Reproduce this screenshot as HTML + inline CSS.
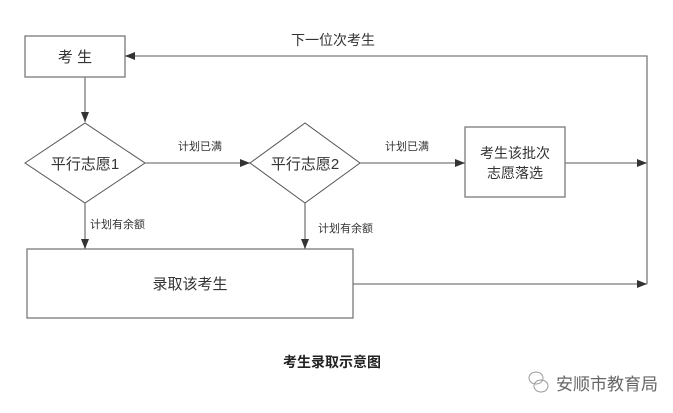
<!DOCTYPE html>
<html><head><meta charset="utf-8"><style>
html,body{margin:0;padding:0;background:#fff;}
svg{display:block;}
text{font-family:"Liberation Sans","Noto Sans CJK SC",sans-serif;fill:#333;}
</style></head><body>
<svg width="673" height="413" viewBox="0 0 673 413" xmlns="http://www.w3.org/2000/svg">
<defs>
<marker id="a" markerWidth="10" markerHeight="8" refX="10" refY="4" orient="auto" markerUnits="userSpaceOnUse">
<path d="M0,0 L10,4 L0,8 z" fill="#333"/></marker>
</defs>
<g stroke="#7a7a7a" stroke-width="1.3" fill="none">
<rect x="25" y="36" width="100" height="41" fill="#fff"/>
<polygon points="25,163 85,123 145,163 85,203" fill="#fff" stroke="#555" stroke-width="1"/>
<polygon points="250,163 305,123 360,163 305,203" fill="#fff" stroke="#555" stroke-width="1"/>
<rect x="465" y="127" width="100" height="70" fill="#fff"/>
<rect x="27" y="249" width="326" height="69" fill="#fff"/>
<line x1="85" y1="77" x2="85" y2="122" marker-end="url(#a)"/>
<line x1="145" y1="163" x2="250" y2="163" marker-end="url(#a)"/>
<line x1="360" y1="163" x2="465" y2="163" marker-end="url(#a)"/>
<line x1="565" y1="163" x2="647" y2="163" marker-end="url(#a)"/>
<line x1="85" y1="203" x2="85" y2="249" marker-end="url(#a)"/>
<line x1="305" y1="203" x2="305" y2="249" marker-end="url(#a)"/>
<line x1="353" y1="284" x2="647" y2="284" marker-end="url(#a)"/>
<polyline points="647,284 647,56 125,56" marker-end="url(#a)"/>
</g>
<text x="75" y="62" font-size="15" text-anchor="middle">考 生</text>
<text x="85" y="169" font-size="15" text-anchor="middle">平行志愿1</text>
<text x="305" y="169" font-size="15" text-anchor="middle">平行志愿2</text>
<text x="515" y="158" font-size="14" text-anchor="middle">考生该批次</text>
<text x="515" y="178" font-size="14" text-anchor="middle">志愿落选</text>
<text x="190" y="289" font-size="15" text-anchor="middle">录取该考生</text>
<text x="333" y="45" font-size="14" text-anchor="middle">下一位次考生</text>
<text x="200" y="150" font-size="11" text-anchor="middle">计划已满</text>
<text x="407" y="150" font-size="11" text-anchor="middle">计划已满</text>
<text x="90" y="228" font-size="11">计划有余额</text>
<text x="318" y="232" font-size="11">计划有余额</text>
<text x="332" y="367" font-size="14" font-weight="bold" text-anchor="middle" style="fill:#222">考生录取示意图</text>
<g stroke="#999" fill="none" stroke-width="1">
<ellipse cx="536" cy="378" rx="7" ry="6"/>
<ellipse cx="541" cy="386" rx="7" ry="6"/>
</g>
<text x="556" y="390" font-size="17" style="fill:#666">安顺市教育局</text>
</svg>
</body></html>
